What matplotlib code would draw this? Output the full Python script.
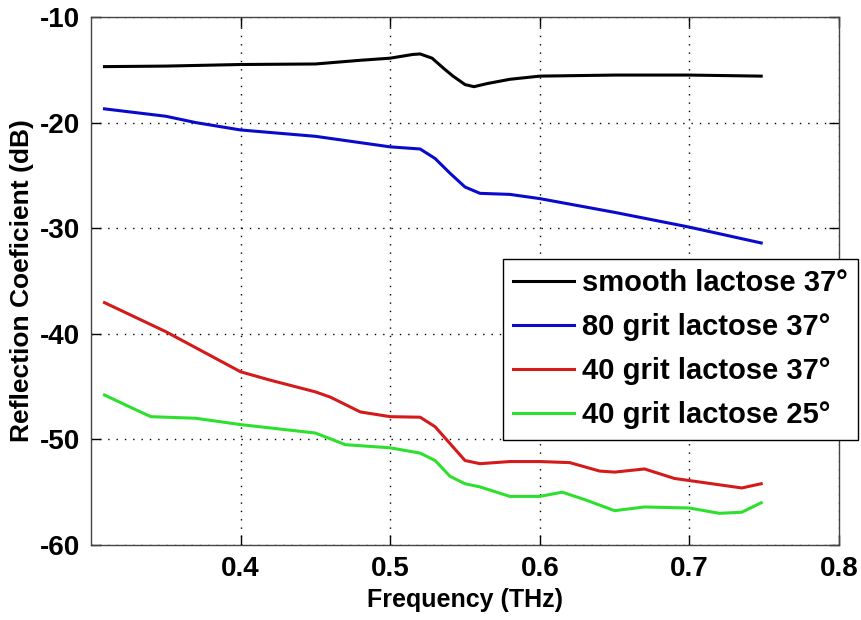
import matplotlib
matplotlib.use('Agg')
from matplotlib import pyplot as plt

plt.rcParams['font.family'] = ['Liberation Sans', 'DejaVu Sans']
plt.rcParams['font.weight'] = 'bold'
plt.rcParams['axes.unicode_minus'] = False

# frequency (THz) / reflection coefficient (dB)
smooth_f = [0.309, 0.35, 0.40, 0.45, 0.48, 0.50, 0.515, 0.52, 0.528, 0.536, 0.542,
            0.55, 0.556, 0.565, 0.58, 0.60, 0.65, 0.70, 0.748]
smooth_db = [-14.7, -14.65, -14.5, -14.45, -14.1, -13.9, -13.55, -13.5, -13.9, -14.9, -15.6,
             -16.4, -16.6, -16.3, -15.9, -15.6, -15.5, -15.5, -15.6]

grit80_f = [0.309, 0.35, 0.37, 0.40, 0.45, 0.50, 0.52, 0.53, 0.54, 0.55, 0.56,
            0.58, 0.60, 0.65, 0.70, 0.748]
grit80_db = [-18.7, -19.4, -20.0, -20.7, -21.3, -22.3, -22.5, -23.4, -24.8, -26.1, -26.7,
             -26.8, -27.2, -28.5, -29.9, -31.4]

grit40_f = [0.309, 0.35, 0.40, 0.42, 0.45, 0.46, 0.48, 0.50, 0.52, 0.53, 0.54, 0.55,
            0.56, 0.58, 0.60, 0.62, 0.64, 0.65, 0.67, 0.69, 0.70, 0.72, 0.735, 0.748]
grit40_db = [-37.05, -39.8, -43.6, -44.4, -45.5, -46.0, -47.4, -47.85, -47.9, -48.8, -50.4, -52.0,
             -52.3, -52.1, -52.1, -52.2, -53.0, -53.1, -52.8, -53.7, -53.9, -54.3, -54.6, -54.2]

grit40_25_f = [0.309, 0.33, 0.34, 0.37, 0.40, 0.45, 0.47, 0.50, 0.52, 0.53, 0.54, 0.55,
               0.56, 0.58, 0.60, 0.615, 0.63, 0.65, 0.67, 0.70, 0.72, 0.735, 0.748]
grit40_25_db = [-45.8, -47.2, -47.85, -48.0, -48.6, -49.4, -50.5, -50.8, -51.3, -52.0, -53.5, -54.2,
                -54.5, -55.4, -55.4, -55.0, -55.7, -56.75, -56.4, -56.5, -57.0, -56.9, -56.0]

labels = ['smooth lactose 37°', '80 grit lactose 37°', '40 grit lactose 37°', '40 grit lactose 25°']
xticks = [0.4, 0.5, 0.6, 0.7, 0.8]
yticks = [-60, -50, -40, -30, -20, -10]

fig = plt.figure(figsize=(8.62, 6.2), dpi=100)
ax = fig.add_axes([0.1056, 0.121, 0.8677, 0.8516])

ax.plot(smooth_f, smooth_db, color='black', lw=2.2, label=labels[0])
ax.plot(grit80_f, grit80_db, color='#0a0acc', lw=2.2, label=labels[1])
ax.plot(grit40_f, grit40_db, color='#d41a1a', lw=2.2, label=labels[2])
ax.plot(grit40_25_f, grit40_25_db, color='#2ee02e', lw=2.2, label=labels[3])

ax.set_xlim(0.3, 0.8)
ax.set_ylim(-60, -10)
ax.set_xticks(xticks)
ax.set_yticks(yticks)
ax.grid(True, color='black', linestyle=(0, (1, 5)), linewidth=1)

ax.tick_params(axis='both', direction='in', top=True, right=True, length=7,
               width=1, labelsize=20, pad=8)
for s in ax.spines.values():
    s.set_color('#444444')
    s.set_linewidth(1)

ax.set_xlabel('Frequency (THz)', fontsize=18, fontweight='bold', labelpad=4)
ax.set_ylabel('Reflection Coeficient (dB)', fontsize=19, fontweight='bold', labelpad=4)

leg = ax.legend(loc='upper left', bbox_to_anchor=(503 / 862, 1 - 259 / 620),
                bbox_transform=fig.transFigure, fontsize=21, fancybox=False,
                edgecolor='black', framealpha=1, handlelength=2.1,
                handletextpad=0.25, labelspacing=0.55, borderpad=0.35,
                borderaxespad=0)
leg.get_frame().set_linewidth(1)

plt.savefig('out.png', dpi=100)
